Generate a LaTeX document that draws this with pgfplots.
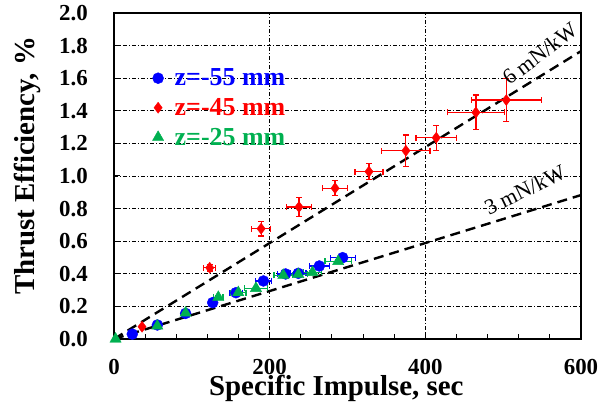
\documentclass[border=0pt]{standalone}
\usepackage{pgfplots}
\pgfplotsset{compat=1.18}
\usepackage{fontspec}
\setmainfont{Liberation Serif}
\definecolor{myblue}{RGB}{0,0,255}
\definecolor{myred}{RGB}{255,0,0}
\definecolor{mygreen}{RGB}{0,176,80}
\begin{document}
\begin{tikzpicture}
\path[use as bounding box] (-114bp,-67bp) rectangle (494bp,339bp);
\begin{axis}[
  scale only axis,
  width=467bp, height=326bp,
  xmin=0, xmax=600, ymin=0, ymax=2.0,
  xtick={0,200,400,600},
  ytick={0,0.2,0.4,0.6,0.8,1.0,1.2,1.4,1.6,1.8,2.0},
  minor x tick num=4,
  tick align=inside,
  xtick pos=bottom, ytick pos=left,
  major tick length=6bp, minor tick length=5bp,
  every tick/.style={black, line width=1bp},
  axis line style={line width=1.5bp},
  grid=major,
  major grid style={black, line width=0.6bp, dash pattern=on 4bp off 2bp on 1bp off 2bp},
  /pgf/number format/assume math mode=true,
  xticklabel style={/pgf/number format/fixed, /pgf/number format/precision=0},
  yticklabel style={/pgf/number format/fixed, /pgf/number format/fixed zerofill, /pgf/number format/precision=1},
  ticklabel style={font=\fontsize{23}{23}\selectfont\bfseries},
  yticklabel style={anchor=east, inner sep=0pt, xshift=-26bp},
  xticklabel style={anchor=north, inner sep=0pt, yshift=-20bp},
  xlabel={Specific Impulse, sec},
  ylabel={Thrust Efficiency, \%},
  label style={font=\fontsize{29}{29}\selectfont\bfseries},
  xlabel style={at={(axis description cs:0.476,-0.172)}, anchor=base, inner sep=0pt},
  ylabel style={at={(axis description cs:-0.186,0.531)}, anchor=center, inner sep=0pt},
  legend style={draw=none, fill=none, at={(axis description cs:0.082,0.835)}, anchor=north west,
    font=\fontsize{26}{26}\selectfont\bfseries, row sep=7bp, column sep=9bp, inner sep=0pt},
  legend cell align=left,
  error bars/error bar style={line width=1.2bp},
  error bars/error mark options={rotate=90, line width=1.2bp, mark size=3bp},
]
\addplot[black, line width=2.4bp, dash pattern=on 10bp off 6bp, forget plot] coordinates {(0,0) (600,1.766)};
\addplot[black, line width=2.4bp, dash pattern=on 10bp off 6bp, forget plot] coordinates {(0,0) (600,0.883)};

\addplot[only marks, mark=*, mark size=5.5bp, color=myblue,
  error bars/.cd, x dir=both, x explicit, y dir=both, y explicit]
  table[x=x, y=y, x error=ex, y error=ey] {
x y ex ey
23.5 0.030 3 0
55.7 0.086 3 0
92 0.157 4 0
126.8 0.223 5 0
156.7 0.284 8 0.01
192 0.356 10 0.01
220.5 0.399 10 0.01
236.8 0.403 10 0.01
263.8 0.448 13 0.01
293.8 0.499 16 0.01
};
\addlegendentry{\textcolor{myblue}{z=-55 mm}}

\addplot[only marks, mark=diamond*, mark size=5.5bp, color=myred,
  error bars/.cd, x dir=both, x explicit, y dir=both, y explicit]
  table[x=x, y=y, x error=ex, y error=ey] {
x y ex ey
36 0.075 0 0
123 0.437 7.5 0.02
189 0.677 12 0.045
237.7 0.810 16.5 0.057
284 0.925 16 0.045
327.6 1.027 18 0.05
375 1.155 31 0.097
414 1.235 26 0.077
465 1.390 37 0.107
504 1.466 45 0.13
};
\addlegendentry{\textcolor{myred}{z=-45 mm}}

\addplot[only marks, mark=triangle*, mark size=6.5bp, color=mygreen,
  error bars/.cd, x dir=both, x explicit, y dir=both, y explicit]
  table[x=x, y=y, x error=ex, y error=ey] {
x y ex ey
2 0.0 0 0
55.7 0.080 3 0
92 0.160 4 0
134 0.256 6 0.01
159.7 0.285 10 0.01
182.4 0.311 15 0.01
217.5 0.391 12 0.01
236.8 0.396 12 0.01
255 0.409 12 0.01
288 0.476 17 0.01
};
\addlegendentry{\textcolor{mygreen}{z=-25 mm}}

\node[rotate=37, font=\fontsize{22}{22}\selectfont] at (axis cs:547,1.75) {6 mN/kW};
\node[rotate=26, font=\fontsize{22}{22}\selectfont] at (axis cs:528,0.915) {3 mN/kW};
\end{axis}
\end{tikzpicture}
\end{document}
